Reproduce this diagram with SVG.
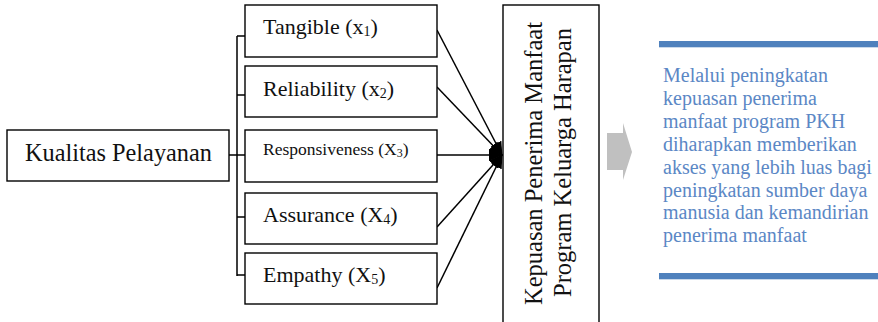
<svg xmlns="http://www.w3.org/2000/svg" width="878" height="322" viewBox="0 0 878 322">
<style>
.box{fill:#fff;stroke:#000;stroke-width:1.4}
.t{font-family:"Liberation Serif","Times New Roman",serif;fill:#111}
.lbl{font-size:22px}
.con{fill:none;stroke:#000;stroke-width:1.5}
.blue{font-family:"Liberation Serif","Times New Roman",serif;font-size:20px;fill:#5b87c5}
</style>
<defs>
<marker id="ah" markerUnits="userSpaceOnUse" markerWidth="14" markerHeight="12" viewBox="0 0 14 12" refX="13" refY="6" orient="auto">
<path d="M0,0 L14,6 L0,12 z" fill="#000"/>
</marker>
</defs>
<rect width="878" height="322" fill="#fff"/>

<g id="connectors">
<path class="con" d="M229,155 H237 M237,36 V276 M237,36 H245 M237,95 H245 M237,155 H245 M237,217 H245 M237,275 H245"/>
<line class="con" x1="437" y1="30" x2="502" y2="155" marker-end="url(#ah)"/>
<line class="con" x1="437" y1="87" x2="502" y2="155" marker-end="url(#ah)"/>
<line class="con" x1="437" y1="155" x2="502" y2="155" marker-end="url(#ah)"/>
<line class="con" x1="437" y1="227" x2="502" y2="155" marker-end="url(#ah)"/>
<line class="con" x1="437" y1="288" x2="502" y2="155" marker-end="url(#ah)"/>
</g>

<g id="kualitas">
<rect class="box" x="7" y="130" width="222" height="51"/>
<text class="t" x="25" y="161" font-size="24.3">Kualitas Pelayanan</text>
</g>

<g id="tangible">
<rect class="box" x="245" y="5" width="192" height="52"/>
<text class="t lbl" x="263" y="34">Tangible (x<tspan font-size="14" dy="2">1</tspan><tspan dy="-2">)</tspan></text>
</g>

<g id="reliability">
<rect class="box" x="245" y="66" width="192" height="51"/>
<text class="t lbl" x="263" y="96">Reliability (x<tspan font-size="14" dy="2">2</tspan><tspan dy="-2">)</tspan></text>
</g>

<g id="responsiveness">
<rect class="box" x="245" y="130" width="192" height="52"/>
<text class="t" x="263" y="155" font-size="17.5">Responsiveness (X<tspan font-size="12" dy="2">3</tspan><tspan dy="-2">)</tspan></text>
</g>

<g id="assurance">
<rect class="box" x="245" y="193" width="192" height="51"/>
<text class="t lbl" x="263" y="222">Assurance (X<tspan font-size="14" dy="2">4</tspan><tspan dy="-2">)</tspan></text>
</g>

<g id="empathy">
<rect class="box" x="245" y="253" width="192" height="51"/>
<text class="t lbl" x="263" y="282">Empathy (X<tspan font-size="14" dy="2">5</tspan><tspan dy="-2">)</tspan></text>
</g>

<g id="kepuasan">
<rect class="box" x="503" y="5" width="96" height="330" stroke-width="1.1"/>
<text class="t" font-size="24.5" text-anchor="middle" transform="translate(542,163.5) rotate(-90)">Kepuasan Penerima Manfaat</text>
<text class="t" font-size="24.5" text-anchor="middle" transform="translate(571,162.5) rotate(-90)">Program Keluarga Harapan</text>
</g>

<g id="arrow">
<path d="M607,133 H623 V123 L632,152 L623,180 V170 H607 z" fill="#c0c0c0"/>
</g>

<g id="outcome">
<rect x="659" y="41" width="219" height="6.3" fill="#4f81bd"/>
<rect x="659" y="273" width="219" height="6.3" fill="#4f81bd"/>
<text class="blue" x="663">
<tspan x="663" y="82.3">Melalui peningkatan</tspan>
<tspan x="663" y="105.1">kepuasan penerima</tspan>
<tspan x="663" y="128">manfaat program PKH</tspan>
<tspan x="663" y="150.9">diharapkan memberikan</tspan>
<tspan x="663" y="173.7">akses yang lebih luas bagi</tspan>
<tspan x="663" y="196.6">peningkatan sumber daya</tspan>
<tspan x="663" y="219.4">manusia dan kemandirian</tspan>
<tspan x="663" y="242.3">penerima manfaat</tspan>
</text>
</g>
</svg>
